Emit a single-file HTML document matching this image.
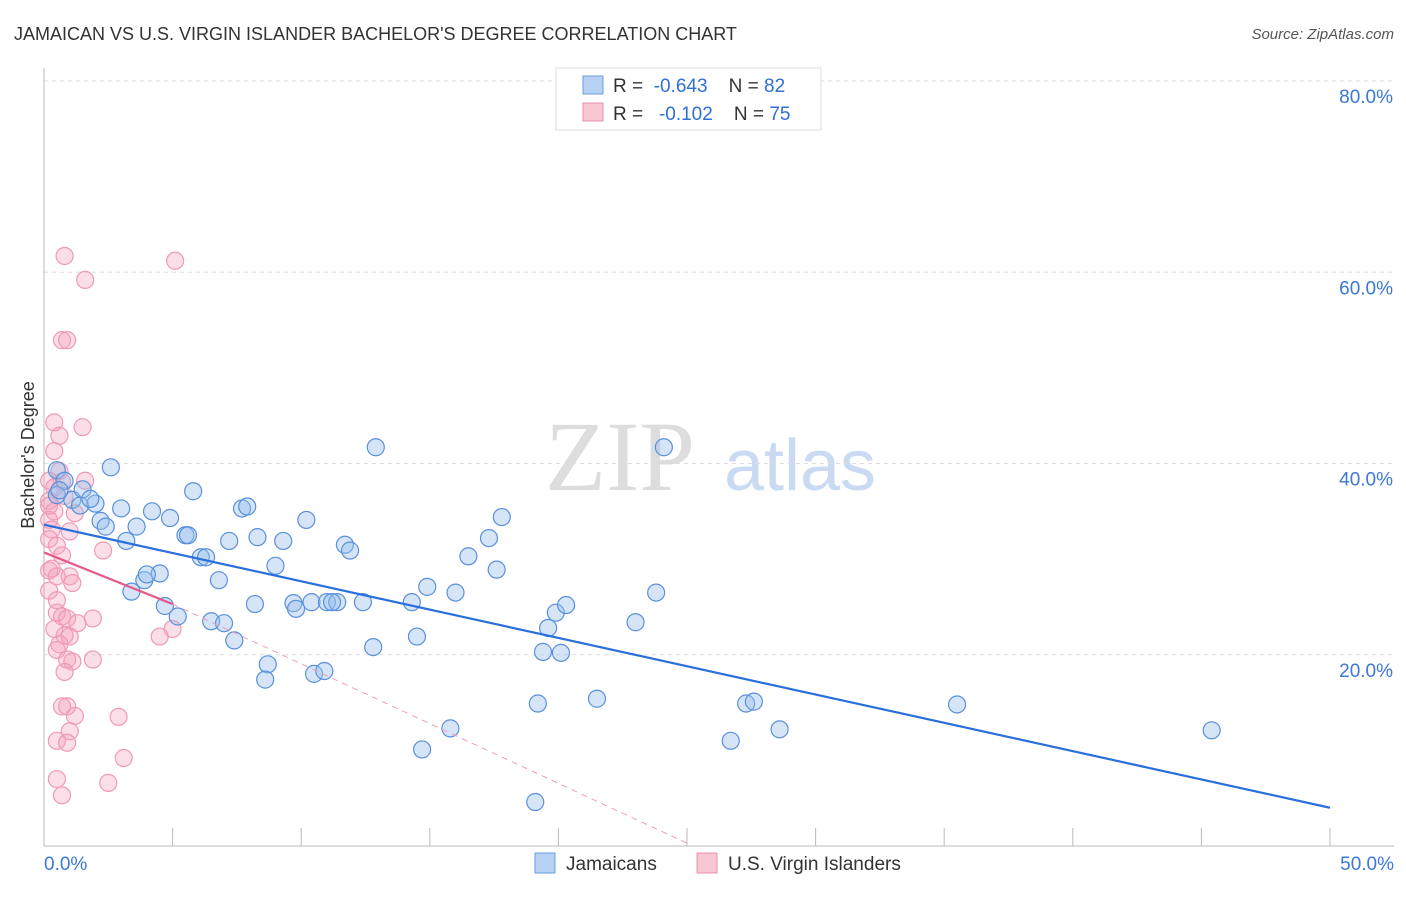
<!DOCTYPE html>
<html><head><meta charset="utf-8"><style>
body{margin:0;background:#fff;font-family:"Liberation Sans",sans-serif;}
svg text{font-family:"Liberation Sans",sans-serif;}
</style></head><body>
<svg id="c" width="1406" height="892" xmlns="http://www.w3.org/2000/svg">
<text x="14" y="40" font-size="18" fill="#333">JAMAICAN VS U.S. VIRGIN ISLANDER BACHELOR'S DEGREE CORRELATION CHART</text>
<text x="1394" y="39" font-size="15" fill="#555" font-style="italic" text-anchor="end">Source: ZipAtlas.com</text>
<text x="620" y="490" font-size="100" fill="#ddd" text-anchor="middle" style="font-family:'Liberation Serif',serif">ZIP</text>
<text x="800" y="490" font-size="72" fill="#c9daf2" text-anchor="middle">atlas</text>
<text x="34" y="455" font-size="18" fill="#333" text-anchor="middle" transform="rotate(-90 34 455)">Bachelor's Degree</text>
<g id="grid"></g><g id="pts"></g><g id="lines"></g>
<g>
<rect x="556" y="68" width="265" height="62" fill="#fff" stroke="#ddd"/>
<rect x="583" y="76" width="20" height="18" fill="#b8d2f4" stroke="#6a9be0"/>
<rect x="583" y="103" width="20" height="18" fill="#f9c6d4" stroke="#ec8fab"/>
<text x="613" y="92" font-size="19" fill="#333" xml:space="preserve">R =  <tspan fill="#2f6fd6">-0.643</tspan>    N = <tspan fill="#2f6fd6">82</tspan></text>
<text x="613" y="120" font-size="19" fill="#333" xml:space="preserve">R =   <tspan fill="#2f6fd6">-0.102</tspan>    N = <tspan fill="#2f6fd6">75</tspan></text>
</g>
<g>
<rect x="535" y="853" width="20" height="20" fill="#b8d2f4" stroke="#6a9be0"/>
<text x="566" y="870" font-size="19" fill="#333">Jamaicans</text>
<rect x="697" y="853" width="20" height="20" fill="#f9c6d4" stroke="#ec8fab"/>
<text x="728" y="870" font-size="19" fill="#333">U.S. Virgin Islanders</text>
</g>
</svg>
<script>
const blueX=[2.6,0.5,0.8,0.5,1.1,1.4,2.0,3.0,1.5,2.2,2.4,3.2,3.6,4.2,4.9,5.8,5.5,5.6,6.1,6.3,6.8,7.2,7.7,7.9,8.3,9.3,9.0,8.2,6.5,7.0,7.4,4.7,5.2,4.5,3.9,4.0,3.4,8.7,8.6,9.7,9.8,10.2,10.4,11.0,11.4,11.2,11.7,11.9,12.4,12.9,12.8,10.5,10.9,14.3,14.9,14.5,16.0,16.5,17.3,17.6,17.8,19.6,19.4,19.9,20.1,20.3,19.2,21.5,15.8,14.7,19.1,23.0,23.8,24.1,27.3,27.6,26.7,28.6,35.5,45.4,0.6,1.8];
const blueY=[39.6,39.3,38.2,36.7,36.2,35.6,35.8,35.3,37.3,34.0,33.4,31.9,33.4,35.0,34.3,37.1,32.5,32.5,30.2,30.2,27.8,31.9,35.3,35.5,32.3,31.9,29.3,25.3,23.5,23.3,21.5,25.1,24.0,28.5,27.8,28.4,26.6,19.0,17.4,25.4,24.8,34.1,25.5,25.5,25.5,25.5,31.5,30.9,25.5,41.7,20.8,18.0,18.3,25.5,27.1,21.9,26.5,30.3,32.2,28.9,34.4,22.8,20.3,24.4,20.2,25.2,14.9,15.4,12.3,10.1,4.6,23.4,26.5,41.7,14.9,15.1,11.0,12.2,14.8,12.1,37.2,36.3];
const pinkX=[0.8,1.6,5.1,0.7,0.9,0.4,1.5,0.6,0.4,0.6,0.2,0.4,0.7,1.6,0.8,0.2,0.4,1.2,0.2,0.3,0.2,0.5,1.0,2.3,0.7,0.2,0.5,1.0,0.2,1.1,0.5,0.7,1.9,0.9,1.3,0.4,0.8,1.0,0.6,0.5,0.9,1.1,1.9,0.8,4.5,5.0,0.7,0.9,1.2,2.9,1.0,0.5,0.9,3.1,0.5,2.5,0.7,0.3,0.2,0.5];
const pinkY=[61.7,59.2,61.2,52.9,52.9,44.3,43.8,42.9,41.3,39.2,38.2,37.5,38.1,38.2,36.6,36.1,35.0,34.8,34.1,33.1,32.1,31.4,32.9,30.9,30.4,28.8,28.2,28.2,26.7,27.5,24.4,24.0,23.8,23.8,23.3,22.7,22.0,21.9,21.1,20.5,19.5,19.3,19.5,18.2,21.9,22.7,14.6,14.6,13.6,13.5,12.0,11.0,10.8,9.2,7.0,6.6,5.3,29.0,35.6,25.7];
const ticks=[20,40,60,80];
const X=v=>44+v/50*1286, Y=v=>846-v*9.5625;
const ns="http://www.w3.org/2000/svg";
function mk(t,a,p){const e=document.createElementNS(ns,t);for(const k in a)e.setAttribute(k,a[k]);p.appendChild(e);return e;}
const g=document.getElementById('grid');
ticks.forEach(t=>{
 const l=mk('line',{x1:44,x2:1394,y1:Y(t),y2:Y(t),stroke:'#ddd','stroke-dasharray':'4,4'},g);
 
 
 const tx=mk('text',{x:1393,y:Y(t)+22,'font-size':19,fill:'#3b78d8','text-anchor':'end'},g);tx.textContent=t.toFixed(1)+'%';
 
 
});
mk('line',{x1:44,x2:44,y1:68,y2:846,stroke:'#bbb'},g);
mk('line',{x1:44,x2:1394,y1:846,y2:846,stroke:'#bbb'},g);
for(let i=1;i<=10;i++){mk('line',{x1:X(i*5),x2:X(i*5),y1:828,y2:846,stroke:'#bbb'},g);}
const x0=mk('text',{x:44,y:870,'font-size':19,fill:'#3b78d8'},g);x0.textContent='0.0%';


const x1=mk('text',{x:1394,y:870,'font-size':19,fill:'#3b78d8','text-anchor':'end'},g);x1.textContent='50.0%';


const p=document.getElementById('pts');
pinkX.forEach((v,i)=>{const c=mk('circle',{cx:X(v),cy:Y(pinkY[i]),r:8.5,fill:'rgba(244,160,186,0.35)',stroke:'#ef9ab5','stroke-width':1.2},p);
 
 });
blueX.forEach((v,i)=>{const c=mk('circle',{cx:X(v),cy:Y(blueY[i]),r:8.5,fill:'rgba(150,190,236,0.4)',stroke:'#5a90dc','stroke-width':1.2},p);
 
 });
const L=document.getElementById('lines');
const bl=mk('line',{x1:X(0),y1:Y(33.6),x2:X(50),y2:Y(4.0),stroke:'#2a6fdb','stroke-width':2.2},L);


const pd=mk('line',{x1:X(5),y1:Y(25.3),x2:X(25),y2:Y(0.3),stroke:'#eaa0b8','stroke-width':1,'stroke-dasharray':'6,5'},L);


const pl=mk('line',{x1:X(0),y1:Y(30.7),x2:X(5),y2:Y(25.3),stroke:'#e55a88','stroke-width':2.2},L);


</script>
</body></html>
